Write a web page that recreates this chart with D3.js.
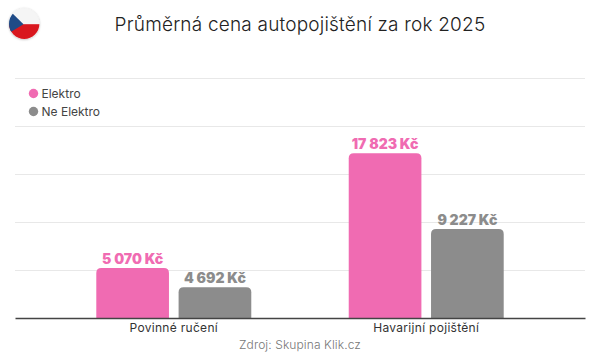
<!DOCTYPE html>
<html>
<head>
<meta charset="utf-8">
<script src="https://cdn.jsdelivr.net/npm/d3@7"></script>
<style>
  html, body { margin: 0; background: #fff; }
  text { font-family: Inter, "Open Sans", sans-serif; }
</style>
</head>
<body>
<div id="chart"></div>
<script>
const categories = ['Povinné ručení', 'Havarijní pojištění'];
const seriesNames = ['Elektro', 'Ne Elektro'];
const seriesColors = ['#f06bb2', '#8c8c8c'];

// printed prices
const elektroLabels = ['5 070 Kč', '17 823 Kč'];
const neElektroLabels = ['4 692 Kč', '9 227 Kč'];

// bar heights as read off the gridlines, they are not proportional to the printed prices
const elektroHeights = [5200, 17150];
const neElektroHeights = [3200, 9270];

const gridTicks = [0, 5000, 10000, 15000, 20000, 25000];

const width = 600;
const height = 360;
const margin = { top: 78, right: 15, bottom: 42, left: 15 };

const svg = d3.select('#chart')
  .append('svg')
  .attr('width', width)
  .attr('height', height)
  .style('display', 'block');

const x0 = d3.scaleBand()
  .domain(categories)
  .range([margin.left, width - margin.right])
  .paddingInner(0)
  .paddingOuter(0.129);

const x1 = d3.scaleBand()
  .domain(seriesNames)
  .range([0, x0.bandwidth()])
  .paddingInner(0.117)
  .paddingOuter(0.592);

const y = d3.scaleLinear()
  .domain([0, 25000])
  .range([height - margin.bottom, margin.top]);

// gridlines
svg.append('g')
  .attr('transform', `translate(${margin.left},0)`)
  .call(d3.axisLeft(y).tickValues(gridTicks.slice(1)).tickSize(-(width - margin.left - margin.right)).tickFormat(''))
  .call(g => g.select('.domain').remove())
  .call(g => g.selectAll('line').attr('stroke', '#e8e8e8'));

const rows = [
  { name: seriesNames[0], color: seriesColors[0], heights: elektroHeights, labels: elektroLabels },
  { name: seriesNames[1], color: seriesColors[1], heights: neElektroHeights, labels: neElektroLabels }
];

const marks = rows.flatMap(r => categories.map((c, i) => ({
  category: c,
  name: r.name,
  color: r.color,
  value: r.heights[i],
  label: r.labels[i]
})));

// bars with rounded top corners only
const radius = 5;
svg.append('g')
  .selectAll('path')
  .data(marks)
  .join('path')
  .attr('fill', d => d.color)
  .attr('d', d => {
    const left = x0(d.category) + x1(d.name);
    const right = left + x1.bandwidth();
    const top = y(d.value);
    const base = y(0);
    return `M${left},${base}V${top + radius}Q${left},${top} ${left + radius},${top}` +
      `H${right - radius}Q${right},${top} ${right},${top + radius}V${base}Z`;
  });

svg.append('g')
  .selectAll('text')
  .data(marks)
  .join('text')
  .attr('x', d => x0(d.category) + x1(d.name) + x1.bandwidth() / 2)
  .attr('y', d => y(d.value) - 4.5)
  .attr('text-anchor', 'middle')
  .attr('font-size', 14)
  .attr('font-weight', 900)
  .attr('fill', d => d.color)
  .text(d => d.label);

// x axis
svg.append('g')
  .attr('transform', `translate(0,${y(0)})`)
  .call(d3.axisBottom(x0).tickSize(0).tickPadding(5))
  .call(g => g.select('.domain').attr('stroke', '#444').attr('stroke-width', 1.3))
  .call(g => g.selectAll('text')
    .attr('font-size', 12)
    .attr('letter-spacing', 0.3)
    .style('font-family', 'Inter, sans-serif')
    .attr('fill', '#333'));

// title
svg.append('text')
  .attr('x', 300)
  .attr('y', 31)
  .attr('text-anchor', 'middle')
  .attr('font-size', 19)
  .attr('font-weight', 300)
  .attr('letter-spacing', 0.2)
  .attr('fill', '#222')
  .text('Průměrná cena autopojištění za rok 2025');

// legend
const legend = svg.append('g')
  .selectAll('g')
  .data(rows)
  .join('g')
  .attr('transform', (d, i) => `translate(33.5,${93.5 + i * 18})`);

legend.append('circle')
  .attr('r', 4.7)
  .attr('fill', d => d.color);

legend.append('text')
  .attr('x', 8)
  .attr('y', 4.3)
  .attr('font-size', 12)
  .attr('fill', '#444')
  .text(d => d.name);

// source
svg.append('text')
  .attr('x', 300)
  .attr('y', 349)
  .attr('text-anchor', 'middle')
  .attr('font-size', 12)
  .attr('font-weight', 300)
  .attr('letter-spacing', 0.1)
  .attr('fill', '#777')
  .text('Zdroj: Skupina Klik.cz');

// flag
const defs = svg.append('defs');
defs.append('clipPath').attr('id', 'flagClip')
  .append('circle').attr('cx', 24.2).attr('cy', 23.7).attr('r', 15.2);
defs.append('filter').attr('id', 'flagShadow')
  .append('feDropShadow')
  .attr('dx', 0).attr('dy', 0.5).attr('stdDeviation', 1).attr('flood-opacity', 0.3);

svg.append('circle')
  .attr('cx', 24.2).attr('cy', 23.7).attr('r', 15.2)
  .attr('fill', '#f5f5f5')
  .attr('filter', 'url(#flagShadow)');

const flag = svg.append('g').attr('clip-path', 'url(#flagClip)');
flag.append('rect').attr('x', 8).attr('y', 24.2).attr('width', 33).attr('height', 16).attr('fill', '#d9171e');
flag.append('path').attr('d', 'M8,9L23.5,24.2L8,33.5Z').attr('fill', '#1f4b87');
</script>
</body>
</html>
